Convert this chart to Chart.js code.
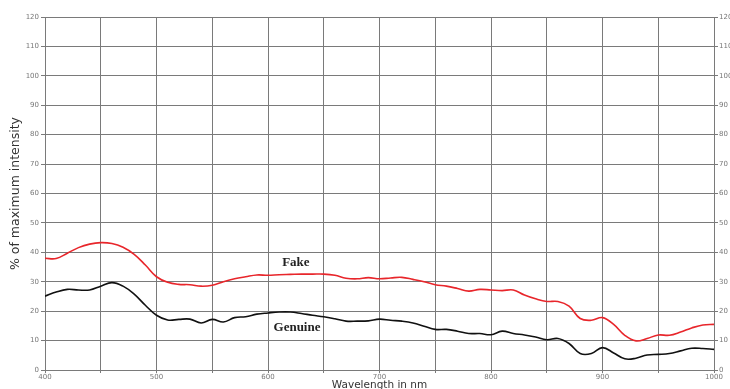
<!DOCTYPE html>
<html><head><meta charset="utf-8">
<script src="https://cdn.jsdelivr.net/npm/chart.js@4"></script>
<style>html,body{margin:0;padding:0;background:#fff}canvas{display:block}</style>
</head><body>
<canvas id="c" width="730" height="389"></canvas>
<script>
const wavelengths = [400,410,420,430,440,450,460,470,480,490,500,510,520,530,540,550,560,570,580,590,600,610,620,630,640,650,660,670,680,690,700,710,720,730,740,750,760,770,780,790,800,810,820,830,840,850,860,870,880,890,900,910,920,930,940,950,960,970,980,990,1000];
const fake = [38.0,37.9,39.7,41.6,42.8,43.3,43.0,41.7,39.3,35.7,31.7,29.8,29.1,29.0,28.5,28.8,30.0,31.0,31.7,32.3,32.2,32.4,32.5,32.6,32.6,32.6,32.2,31.2,31.0,31.4,31.0,31.3,31.5,30.8,30.0,29.0,28.5,27.7,26.8,27.4,27.2,27.0,27.2,25.5,24.2,23.3,23.3,21.7,17.5,16.9,17.8,15.5,11.8,9.9,10.7,11.9,11.8,12.9,14.3,15.3,15.5];
const genuine = [25.1,26.5,27.4,27.2,27.2,28.5,29.7,28.5,25.8,22.0,18.6,17.0,17.2,17.3,16.0,17.2,16.3,17.8,18.1,19.0,19.4,19.7,19.7,19.2,18.6,18.1,17.4,16.6,16.6,16.7,17.3,16.9,16.6,16.0,14.9,13.8,13.8,13.2,12.4,12.4,12.0,13.2,12.4,11.9,11.2,10.3,10.7,9.0,5.6,5.6,7.6,5.8,3.8,4.0,5.1,5.3,5.6,6.5,7.4,7.3,7.0];
const yTicks = [0,10,20,30,40,50,60,70,80,90,100,110,120];
const xTickLabels = [400,500,600,700,800,900,1000];
const seriesLabels = [{text:'Fake', x:625, y:36.4}, {text:'Genuine', x:626, y:14.3}];

const pts = arr => arr.map((v,i)=>({x:wavelengths[i], y:v}));
const gridColor = '#7a7a7a';
const tickFont = {family:'DejaVu Sans', size:7};

const labelPlugin = {
  id:'seriesLabels',
  afterDatasetsDraw(chart){
    const {ctx, scales:{x,y}} = chart;
    ctx.save();
    ctx.font = 'bold 13px "Liberation Serif"';
    ctx.fillStyle = '#222';
    ctx.textAlign = 'center';
    ctx.textBaseline = 'middle';
    seriesLabels.forEach(l=>ctx.fillText(l.text, x.getPixelForValue(l.x), y.getPixelForValue(l.y)));
    ctx.restore();
  }
};

new Chart(document.getElementById('c'), {
  type:'line',
  data:{datasets:[
    {label:'Fake', data:pts(fake), borderColor:'#e8262b', borderWidth:1.6, pointRadius:0, tension:0.4, fill:false},
    {label:'Genuine', data:pts(genuine), borderColor:'#111111', borderWidth:1.6, pointRadius:0, tension:0.4, fill:false}
  ]},
  options:{
    responsive:false, animation:false,
    layout:{padding:{top:17, left:0, right:0, bottom:0}},
    plugins:{legend:{display:false}, tooltip:{enabled:false}},
    scales:{
      x:{type:'linear', min:400, max:1000,
        afterBuildTicks(s){ s.ticks = []; for(let v=400; v<=1000; v+=50) s.ticks.push({value:v}); },
        afterFit(s){ s.height = 19; },
        ticks:{font:tickFont, color:'#777', padding:0, maxRotation:0, autoSkip:false,
          callback:v=> xTickLabels.includes(v) ? String(v) : ''},
        grid:{color:gridColor, lineWidth:1, tickLength:3, drawTicks:true},
        border:{color:gridColor},
        title:{display:true, text:'Wavelength in nm', font:{family:'DejaVu Sans', size:10.5, lineHeight:0.8}, color:'#333', padding:{top:0,bottom:0}}
      },
      y:{type:'linear', position:'left', min:0, max:120,
        afterBuildTicks(s){ s.ticks = yTicks.map(v=>({value:v})); },
        afterFit(s){ s.width = 45; },
        ticks:{font:tickFont, color:'#777', padding:2},
        grid:{color:gridColor, lineWidth:1, tickLength:4},
        border:{color:gridColor},
        title:{display:true, text:'% of maximum intensity', font:{family:'DejaVu Sans', size:12.5}, color:'#333', padding:{top:8.5,bottom:0}}
      },
      y2:{type:'linear', position:'right', min:0, max:120,
        afterBuildTicks(s){ s.ticks = yTicks.map(v=>({value:v})); },
        afterFit(s){ s.width = 16; },
        ticks:{font:tickFont, color:'#777', padding:1},
        grid:{drawOnChartArea:false, color:gridColor, tickLength:4},
        border:{color:gridColor}
      }
    }
  },
  plugins:[labelPlugin]
});
</script>
</body></html>
